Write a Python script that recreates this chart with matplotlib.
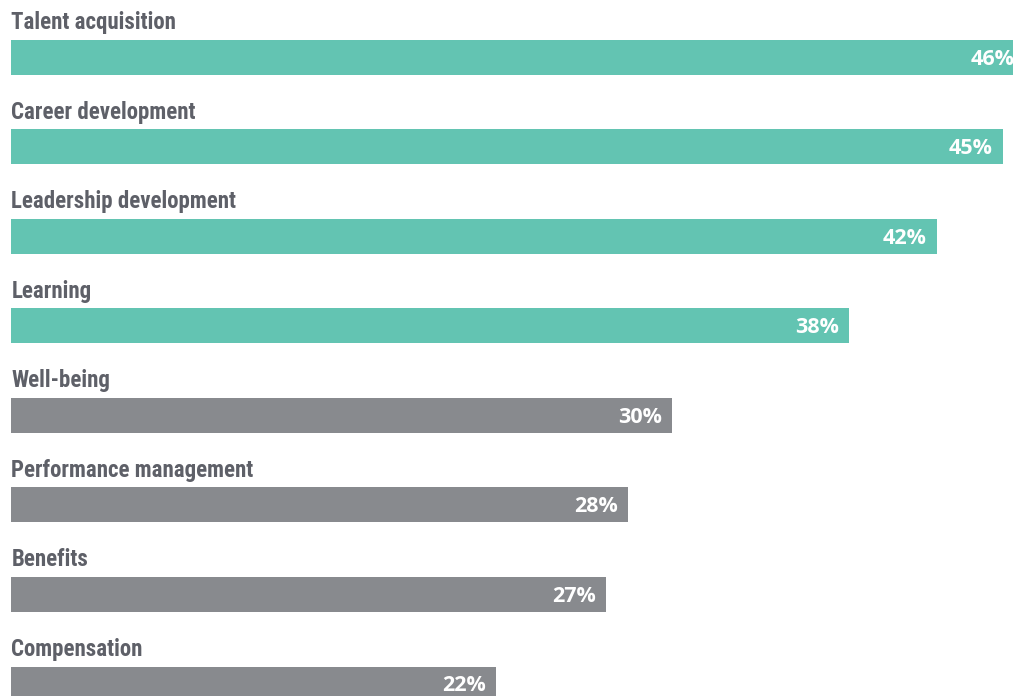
import matplotlib.pyplot as plt

categories = ['Talent acquisition', 'Career development', 'Leadership development', 'Learning',
              'Well-being', 'Performance management', 'Benefits', 'Compensation']
values = [46, 45, 42, 38, 30, 28, 27, 22]
highlight = [True, True, True, True, False, False, False, False]

teal = '#63c4b2'
grey = '#888a8e'
label_col = '#5e6068'

fig = plt.figure(figsize=(10.13, 6.96), dpi=100)
ax = fig.add_axes([0, 0, 1, 1])

ypos = list(range(len(categories)))
colors = [teal if h else grey for h in highlight]
ax.barh(ypos, values, height=0.391, left=0, color=colors)

for i, (cat, v) in enumerate(zip(categories, values)):
    ax.text(0.02, i - 0.39, cat, ha='left', va='center', fontsize=16.5,
            fontweight='bold', color=label_col,
            family=['Roboto Condensed', 'Lato', 'DejaVu Sans'])
    ax.text(v - 0.45, i + 0.02, f'{v}%', ha='right', va='center', fontsize=15.5,
            fontweight='bold', color='white', family=['Open Sans', 'DejaVu Sans'])

ax.set_xlim(-0.5, 45.46)
ax.set_ylim(7.134, -0.642)
ax.axis('off')

fig.savefig('out.png', dpi=100)
